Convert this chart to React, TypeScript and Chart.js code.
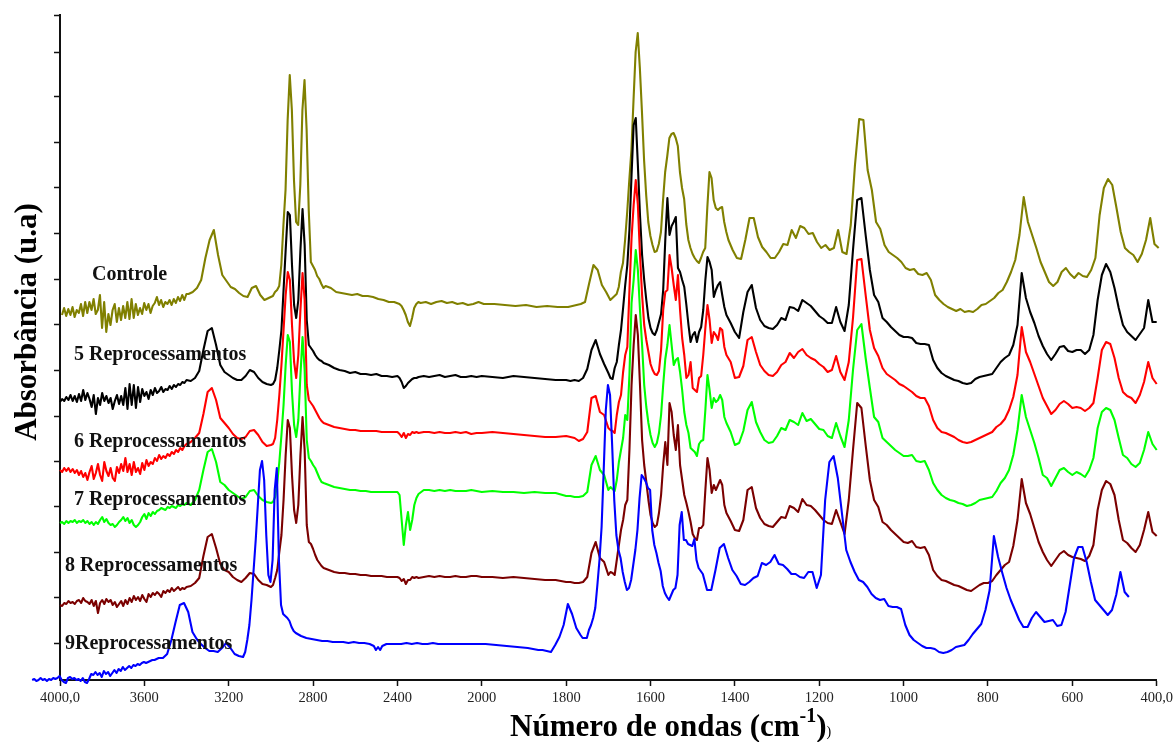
import React, { useEffect, useRef } from "react";
import { Chart, registerables } from "chart.js";

Chart.register(...registerables);

// Wavenumber grid (cm-1), section by section
const wnA = [4000,3990,3980,3970,3960,3950,3940,3930,3920,3910,3900,3890,3880,3870,3860,3850,3840,3830,3820,3810,3800,3790,3780,3770,3760,3750,3740,3730,3720,3710,3700,3690,3680,3670,3660,3650,3640,3630,3620,3610,3600,3590,3580,3570,3560,3550,3540,3530,3520,3510,3500,3490,3480,3470,3460,3450,3440,3430,3420,3410,3400];
const wnB = [3380,3360,3340,3320,3300,3280,3260,3240,3220,3200,3180,3160,3140,3120,3100,3080,3060,3040,3020,3000];
const wnC = [2990,2980,2970,2960,2950,2940,2930,2920,2910,2900,2890,2880,2870,2860,2850,2840,2830,2820,2810,2800,2790,2780,2770,2760,2750];
const wnD1 = [2725,2700,2675,2650,2625,2600,2575,2550,2525,2500,2475,2450,2425];
const wnD2 = [2400,2390,2380,2370,2360,2350,2340,2330,2320,2310,2300];
const wnD3 = [2275,2250,2225,2200,2175,2150,2125,2100,2075,2050,2025,2000,1975,1950,1925,1900,1875,1850,1825];
const wnE1 = [1800,1790,1780,1770,1760,1750,1740,1730,1720,1710,1700];
const wnE2 = [1695,1690,1685,1680,1675,1670,1665,1660,1655,1650,1645,1640,1635,1630,1625,1620,1615,1610,1605,1600,1595,1590,1585,1580,1575,1570,1565,1560,1555,1550,1545,1540,1535,1530,1525,1520,1515,1510,1505,1500,1495,1490,1485,1480,1475,1470,1465,1460,1455,1450,1445,1440,1435,1430,1425,1420];
const wnF = [1410,1400,1390,1380,1370,1360,1350,1340,1330,1320,1310,1300,1290,1280,1270,1260,1250,1240,1230,1220,1210,1200,1190,1180,1170,1160,1150,1140,1130,1120,1110,1100,1090,1080,1070,1060,1050,1040,1030,1020,1010,1000,990,980,970,960,950,940,930,920,910,900,890,880,870,860,850,840,830,820,810,800,790,780,770,760,750,740,730,720,710,700,690,680,670,660,650,640,630,620,610,600,590,580,570,560,550,540,530,520,510,500,490,480,470,460,450,440,430,420,410,400];
const sections = [wnA, wnB, wnC, wnD1, wnD2, wnD3, wnE1, wnE2, wnF];

// Absorbance (arbitrary units, stacked traces), one row per grid section
const controle = [
  [365,372,364,371,365,373,363,370,367,376,364,378,367,378,370,381,366,370,385,352,378,348,366,355,370,376,358,372,360,374,362,378,361,381,362,376,365,372,366,377,370,376,367,374,377,383,375,380,373,378,376,380,375,381,377,383,379,385,380,386,386],
  [388,392,400,422,440,450,425,405,399,393,391,387,384,383,392,394,385,380,382,384],
  [388,390,394,415,455,490,560,605,570,500,458,455,495,570,600,550,470,418,414,410,404,401,396,392,394],
  [392,388,387,386,385,386,384,384,383,381,380,378,378],
  [376,374,370,365,358,354,362,372,376,378,377],
  [378,376,378,379,377,378,376,377,375,376,378,376,376,375,374,375,373,374,373],
  [373,374,375,376,378,397,415,410,395,388,380],
  [382,384,386,393,408,417,440,468,500,530,580,628,647,612,568,520,485,458,444,435,428,429,436,448,480,508,524,542,546,547,542,534,508,492,481,456,440,432,426,422,419,417,422,428,432,473,508,502,480,472,470,472,473,458,448,440],
  [430,422,421,440,462,462,443,433,428,422,422,428,436,435,450,442,454,452,446,447,438,432,435,430,432,450,428,426,455,515,561,560,510,490,458,451,435,428,425,422,418,412,410,411,406,405,407,400,385,380,376,373,371,369,371,368,369,368,371,375,376,379,382,387,390,398,408,420,445,483,458,445,432,418,408,398,394,398,408,412,406,402,407,404,403,410,422,465,492,501,495,472,448,432,428,425,418,426,440,462,436,432],
];
const reproc5 = [
  [278,281,279,283,280,285,279,284,278,286,279,290,280,287,281,273,285,266,282,275,287,279,284,277,282,271,279,285,276,284,275,292,271,296,275,295,272,293,278,291,284,288,281,290,285,292,287,289,293,288,291,290,294,291,295,293,296,295,298,297,300],
  [299,302,309,330,349,352,335,315,308,305,302,300,300,304,310,308,302,298,296,295],
  [296,300,312,330,350,390,430,468,465,415,375,362,380,430,471,435,360,335,332,329,325,322,320,319,317],
  [315,312,310,309,307,308,306,306,305,306,304,304,303],
  [304,302,298,292,294,297,299,301,302,302,303],
  [304,303,304,305,303,304,305,303,303,304,303,304,303,302,304,303,302,301,300],
  [300,299,300,299,302,311,330,340,326,316,307],
  [302,301,312,318,335,350,372,395,415,450,505,555,562,515,465,425,400,380,362,352,347,345,350,358,366,390,440,482,445,454,458,463,412,408,400,393,375,355,338,345,348,338,348,353,370,400,423,418,410,383,390,395,398,385,373,365],
  [357,348,342,368,388,395,372,360,354,352,351,355,362,360,373,372,369,380,377,374,369,364,361,357,357,373,358,349,375,430,480,482,445,410,385,378,362,358,353,349,345,343,343,342,337,336,336,335,320,312,307,304,302,300,299,297,296,297,301,303,304,305,306,312,318,322,325,335,355,407,382,368,357,344,334,326,320,326,333,334,329,328,330,330,326,330,345,380,405,416,408,392,372,355,348,344,340,346,352,380,358,358],
];
const reproc6 = [
  [210,208,212,209,212,208,211,207,210,205,209,203,207,200,208,214,201,207,216,205,199,218,209,204,212,202,199,213,207,216,209,222,208,216,205,218,208,212,206,217,210,220,214,218,216,222,219,225,221,224,222,226,224,228,226,230,228,232,230,234,236],
  [238,242,247,266,288,292,280,262,257,252,246,242,241,243,249,250,245,238,234,235],
  [236,242,260,285,315,350,385,408,400,355,318,302,325,370,407,380,295,280,277,274,270,266,262,259,257],
  [255,253,252,251,250,250,249,249,249,249,248,248,248],
  [248,246,243,247,242,246,245,248,247,248,247],
  [248,248,247,248,247,247,248,247,248,246,247,247,248,247,246,245,244,243,243],
  [244,243,242,239,241,248,282,284,268,265,252],
  [250,249,247,265,278,285,308,325,333,390,442,475,500,475,425,385,355,340,328,316,310,306,305,309,330,370,388,390,425,412,395,380,405,370,342,325,302,305,318,292,290,288,302,304,325,352,375,360,337,348,345,340,352,350,333,325],
  [318,302,303,314,340,343,328,315,309,305,304,308,315,318,327,322,328,331,325,322,320,316,313,308,310,324,308,300,318,362,420,421,385,350,332,324,312,306,303,300,296,294,291,288,284,282,282,274,260,252,248,247,245,243,240,238,237,238,240,242,244,246,248,253,256,261,270,283,305,353,328,318,306,294,282,274,266,270,276,279,276,272,273,272,269,272,277,302,330,338,336,322,302,288,284,282,277,285,298,318,302,296],
];
const reproc7 = [
  [157,158,156,159,157,159,158,160,157,159,158,160,157,159,156,158,155,158,156,160,163,158,161,157,155,156,153,155,158,160,163,159,162,157,160,155,153,155,158,163,166,161,167,164,168,166,169,170,172,171,170,173,172,174,173,172,175,174,176,175,177],
  [175,180,190,210,228,231,218,198,195,190,187,184,181,183,189,190,184,180,178,177],
  [178,183,197,218,245,275,315,345,338,288,255,243,260,305,343,310,240,222,219,215,212,207,202,198,197],
  [195,193,192,191,190,190,189,189,188,188,188,188,188],
  [188,185,160,135,155,168,150,160,175,182,186],
  [190,190,189,190,189,190,189,189,189,190,189,188,189,188,188,187,188,187,187],
  [184,184,183,183,184,188,215,224,210,205,190],
  [193,191,189,200,218,230,242,265,260,305,377,400,430,410,370,335,295,273,257,245,237,233,237,247,265,295,321,335,355,335,315,320,322,308,290,268,255,247,232,230,228,224,236,239,240,270,305,290,272,282,278,280,285,280,263,257],
  [248,235,237,249,270,278,258,248,240,237,238,244,252,250,260,258,255,267,259,261,256,251,250,244,242,257,244,233,260,310,350,356,322,292,263,258,242,238,234,230,227,224,224,225,219,218,219,210,197,190,185,182,180,179,177,176,174,175,177,180,181,182,183,189,197,202,210,225,250,285,263,250,237,222,205,202,194,202,210,212,208,205,208,206,203,210,222,252,268,272,270,260,242,225,222,216,213,217,230,248,236,230],
];
const reproc8 = [
  [75,74,77,76,79,77,78,76,79,80,77,82,79,78,76,80,74,79,67,77,80,76,81,78,80,75,78,73,76,79,74,80,76,82,78,84,80,83,79,85,81,78,86,83,87,85,88,86,83,89,87,90,88,92,89,91,93,90,92,91,93],
  [94,97,102,124,143,146,132,116,110,108,103,100,98,102,107,106,100,96,95,93],
  [95,102,110,128,145,180,225,260,252,205,170,157,175,225,263,230,155,138,136,131,125,120,117,114,112],
  [110,108,107,107,106,106,105,105,104,104,104,103,103],
  [103,102,99,101,96,100,100,103,102,103,102],
  [103,104,103,104,103,103,104,103,103,104,104,103,103,102,103,102,101,100,100],
  [98,98,97,97,98,103,127,138,122,118,105],
  [108,107,105,120,135,150,160,175,180,230,295,335,365,345,295,240,215,198,180,165,157,153,155,167,185,215,238,215,277,268,245,230,255,215,200,185,177,168,158,146,142,140,152,152,155,190,222,210,187,195,190,195,200,195,175,167],
  [159,150,149,160,190,193,172,162,156,154,153,158,163,162,174,172,168,181,175,174,170,165,160,157,156,170,158,146,180,230,277,272,235,200,180,173,158,155,150,146,142,138,137,139,133,132,133,125,110,104,100,99,97,95,94,92,90,89,92,95,97,97,99,105,110,115,118,134,160,201,177,166,152,138,128,120,114,120,126,129,125,123,122,121,119,124,135,170,190,199,196,185,160,140,137,132,128,135,150,168,148,144],
];
const reproc9 = [
  [0,1,-1,0,2,0,1,-1,1,0,2,1,2,4,0,-2,-3,2,3,1,2,0,1,-1,2,-2,-3,1,6,5,8,5,7,3,9,6,8,4,7,10,7,11,9,13,10,12,14,12,15,14,16,15,17,18,17,18,19,20,20,21,22],
  [22,26,40,58,75,77,68,48,41,36,32,29,29,28,32,37,32,26,24,23],
  [28,40,55,80,110,140,175,210,219,200,145,105,98,120,190,212,120,75,66,64,62,59,53,49,47],
  [44,42,41,40,39,39,38,38,38,37,38,37,37],
  [36,35,34,30,33,30,34,35,36,36,36],
  [36,36,37,36,37,36,36,37,36,36,36,36,36,36,36,35,34,33,32],
  [30,30,29,28,35,43,55,76,66,52,45],
  [42,42,42,50,55,62,72,95,120,153,210,270,295,285,235,180,145,130,122,108,98,90,92,100,115,130,150,182,205,202,198,192,190,150,135,127,117,109,94,87,83,80,85,90,92,105,155,168,140,140,136,135,134,141,120,112],
  [106,90,90,110,132,136,122,110,104,96,95,98,102,104,117,115,118,125,116,115,111,106,106,103,102,108,108,92,105,180,218,224,202,166,130,118,108,100,98,93,86,82,80,81,74,73,73,71,55,45,40,37,34,32,32,31,28,27,28,30,33,34,35,40,46,51,56,70,90,144,123,107,92,80,70,60,53,53,62,68,63,58,59,60,54,55,68,95,122,133,133,118,98,80,75,70,65,70,85,108,88,83],
];

const seriesNames = ["Controle", "5 Reprocessamentos", "6 Reprocessamentos", "7 Reprocessamentos", "8 Reprocessamentos", "9Reprocessamentos"];
const seriesRows = [controle, reproc5, reproc6, reproc7, reproc8, reproc9];
const seriesColors = ["#808000", "#000000", "#ff0000", "#00ff00", "#7b0000", "#0000ff"];
// horizontal offset of each trace, in axis units (the plot offsets them in the original)
const seriesShift = [-4.7, 0, 0, 0, 0, 66];

const xTickWn = [4000, 3600, 3200, 2800, 2400, 2000, 1800, 1600, 1400, 1200, 1000, 800, 600, 400];
const xTickLabels = ["4000,0", "3600", "3200", "2800", "2400", "2000", "1800", "1600", "1400", "1200", "1000", "800", "600", "400,0"];
const yTicks = [37, 82.4, 127.8, 173.2, 218.6, 264, 310, 356, 401, 446.5, 492, 537.5, 583, 628, 665];

// The axis is compressed by 2 above 2000 cm-1
const toAxis = (wn: number) => (wn <= 2000 ? wn : 2000 + (wn - 2000) / 2);

const SERIF = "'Liberation Serif', 'Times New Roman', serif";

const labelPlacement = [
  { x: 92, y: 275 },
  { x: 74, y: 355 },
  { x: 74, y: 442 },
  { x: 74, y: 500 },
  { x: 65, y: 566 },
  { x: 65, y: 644 },
];

const textPlugin = {
  id: "spectrumText",
  afterDatasetsDraw(chart: any) {
    const c = chart.ctx;
    c.save();
    c.textBaseline = "middle";
    c.textAlign = "left";
    c.fillStyle = "#111";
    c.font = `bold 20px ${SERIF}`;
    seriesNames.forEach((name, i) => c.fillText(name, labelPlacement[i].x, labelPlacement[i].y));

    // y-axis title
    c.save();
    c.translate(36, 322);
    c.rotate(-Math.PI / 2);
    c.textAlign = "center";
    c.textBaseline = "alphabetic";
    c.font = `bold 31px ${SERIF}`;
    c.fillStyle = "#000";
    c.fillText("Absorbância (u.a)", 0, 0);
    c.restore();

    // x-axis title with superscript
    c.textBaseline = "alphabetic";
    c.fillStyle = "#000";
    let x = 510;
    const base = 736;
    const parts = [
      { t: "Número de ondas (cm", f: `bold 31px ${SERIF}`, y: base },
      { t: "-1", f: `bold 20px ${SERIF}`, y: base - 14 },
      { t: ")", f: `bold 31px ${SERIF}`, y: base },
      { t: ")", f: `14px ${SERIF}`, y: base },
    ];
    parts.forEach((p) => {
      c.font = p.f;
      c.fillText(p.t, x, p.y);
      x += c.measureText(p.t).width;
    });
    c.restore();
  },
};

export default function App() {
  const ref = useRef<HTMLCanvasElement>(null);
  useEffect(() => {
    document.body.style.margin = "0";
    const datasets = seriesNames.map((name, s) => {
      const data: { x: number; y: number }[] = [];
      sections.forEach((grid, k) => {
        const row = seriesRows[s][k];
        const n = Math.min(grid.length, row.length);
        for (let i = 0; i < n; i++) data.push({ x: toAxis(grid[i]) + seriesShift[s], y: row[i] });
      });
      return {
        label: name,
        data,
        borderColor: seriesColors[s],
        backgroundColor: seriesColors[s],
        borderWidth: 2.1,
        pointRadius: 0,
        tension: 0,
        fill: false,
        clip: false,
        order: 6 - s,
        borderJoinStyle: "round" as const,
      };
    });
    const chart = new Chart(ref.current!, {
      type: "line",
      data: { datasets },
      plugins: [textPlugin],
      options: {
        animation: false,
        responsive: false,
        parsing: false,
        normalized: false,
        layout: { padding: { left: 0, top: 15, right: 18, bottom: 0 } },
        plugins: { legend: { display: false }, tooltip: { enabled: false }, title: { display: false } },
        scales: {
          x: {
            type: "linear",
            reverse: true,
            min: 400,
            max: 3000,
            afterBuildTicks: (s: any) => {
              s.ticks = xTickWn.map((w) => ({ value: toAxis(w) }));
            },
            afterFit: (s: any) => {
              s.height = 62;
            },
            border: { display: true, color: "#111", width: 2 },
            grid: { display: true, drawOnChartArea: false, drawTicks: true, tickLength: 6, tickColor: "#111", tickWidth: 1.5 },
            ticks: {
              autoSkip: false,
              maxRotation: 0,
              padding: 3,
              color: "#222",
              font: { family: SERIF, size: 14.5 },
              callback: (v: any) => {
                const i = xTickWn.findIndex((w) => toAxis(w) === v);
                return i >= 0 ? xTickLabels[i] : "";
              },
            },
          },
          y: {
            type: "linear",
            min: 0,
            max: 665,
            afterBuildTicks: (s: any) => {
              s.ticks = yTicks.map((v) => ({ value: v }));
            },
            afterFit: (s: any) => {
              s.width = 60;
            },
            border: { display: true, color: "#111", width: 2 },
            grid: { display: true, drawOnChartArea: false, drawTicks: true, tickLength: 6, tickColor: "#111", tickWidth: 1.5 },
            ticks: { display: false },
          },
        },
      },
    });
    return () => chart.destroy();
  }, []);
  return <canvas ref={ref} width={1176} height={742} style={{ display: "block", width: 1176, height: 742 }} />;
}
